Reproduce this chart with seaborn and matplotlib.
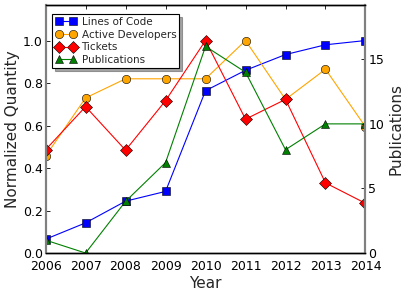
import pandas as pd
import matplotlib
matplotlib.use("Agg")
import matplotlib.pyplot as plt
import seaborn as sns

years = [2006, 2007, 2008, 2009, 2010, 2011, 2012, 2013, 2014]
lines_of_code = [0.065, 0.142, 0.244, 0.29, 0.764, 0.86, 0.934, 0.98, 1.0]
active_devs = [0.456, 0.73, 0.82, 0.82, 0.82, 1.0, 0.723, 0.865, 0.594]
tickets = [0.486, 0.689, 0.484, 0.717, 1.0, 0.63, 0.723, 0.33, 0.234]
publications = [1, 0, 4, 7, 16, 14, 8, 10, 10]

df = pd.DataFrame({'year': years, 'loc': lines_of_code, 'dev': active_devs,
                   'tix': tickets, 'pub': publications})

sns.set_theme(style="white")
plt.rcParams["font.family"] = ["DejaVu Sans"]

fig = plt.figure(figsize=(4.07, 2.97), dpi=100)
ax = fig.add_axes([0.112, 0.148, 0.786, 0.835])
ax2 = ax.twinx()

kw = dict(linewidth=0.8, markersize=6, markeredgecolor='black', markeredgewidth=0.4)
sns.lineplot(data=df, x='year', y='loc', ax=ax, color='#0000ff', marker='s', label='Lines of Code', legend=False, **kw)
sns.lineplot(data=df, x='year', y='dev', ax=ax, color='#ffa500', marker='o', label='Active Developers', legend=False, **kw)
sns.lineplot(data=df, x='year', y='tix', ax=ax, color='#ff0000', marker='D', label='Tickets', legend=False, **kw)
sns.lineplot(data=df, x='year', y='pub', ax=ax2, color='#008000', marker='^', label='Publications', legend=False, **kw)

ax.set_xlim(2006, 2014)
ax.set_ylim(0, 1.167)
ax2.set_ylim(0, 19.2)
ax.set_xticks(years)
ax.set_yticks([0.0, 0.2, 0.4, 0.6, 0.8, 1.0])
ax2.set_yticks([0, 5, 10, 15])
ax.set_yticklabels(['0.0', '0.2', '0.4', '0.6', '0.8', '1.0'])

ax.set_xlabel('Year', fontsize=11, labelpad=2)
ax.set_ylabel('Normalized Quantity', fontsize=11, labelpad=2)
ax2.set_ylabel('Publications', fontsize=11, labelpad=3)

for a in (ax, ax2):
    a.tick_params(direction='in', length=3, width=0.6, labelsize=9, pad=2,
                  top=True, colors='black')
    for s in a.spines.values():
        s.set_color('black')
        s.set_linewidth(1)
    a.spines['left'].set_color('grey')
    a.spines['right'].set_color('grey')
    a.spines['left'].set_linewidth(1.5)
    a.spines['right'].set_linewidth(1.5)
ax.tick_params(axis='x', pad=5)
ax2.tick_params(axis='y', left=False, right=True)
ax.tick_params(axis='y', right=False)

h1, l1 = ax.get_legend_handles_labels()
h2, l2 = ax2.get_legend_handles_labels()
leg = ax2.legend(h1 + h2, l1 + l2, loc='upper left', numpoints=2, fontsize=7.5,
                 fancybox=False, shadow=True, frameon=True, borderpad=0.3,
                 labelspacing=0.25, handlelength=2, handletextpad=0.5,
                 bbox_to_anchor=(0.005, 0.985))
leg.get_frame().set_edgecolor('black')
leg.get_frame().set_linewidth(0.8)

fig.savefig('out.png', dpi=100)
